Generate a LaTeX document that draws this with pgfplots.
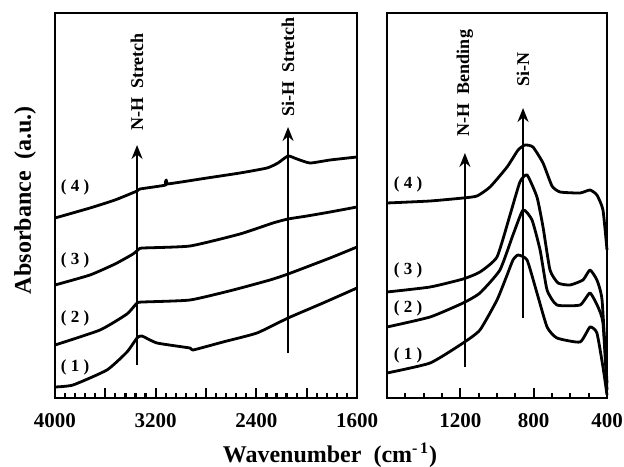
\documentclass[border=0pt]{standalone}
\usepackage{fontspec}
\setmainfont{Liberation Serif}
\usepackage{pgfplots}
\pgfplotsset{compat=1.18}
\usetikzlibrary{arrows.meta}

\pgfplotsset{ftir/.style={
  scale only axis, height=192.5pt, x dir=reverse, clip=false,
  ymin=0, ymax=3.85, ytick=\empty,
  axis line style={line width=1pt},
  tick pos=left, major tick length=0pt, minor tick length=0pt,
  tick label style={font=\fontsize{10.5}{12}\selectfont\bfseries},
  xticklabel style={yshift=-4pt},
  /pgf/number format/assume math mode=true,
  cycle list={black\\},
  every axis plot/.append style={line width=1.4pt, no marks, line join=round, smooth, tension=0.3},
}}
\tikzset{
  band/.style={line width=1pt, -{Stealth[length=7pt,width=5.5pt]}},
  bandtxt/.style={rotate=90, font=\fontsize{9}{10}\selectfont\bfseries},
  curvetxt/.style={font=\fontsize{8.5}{10}\selectfont\bfseries},
  tk/.style={line width=1.1pt, draw=black},
}

\begin{document}
\begin{tikzpicture}
% ---- left panel: 4000-1600 cm-1
\begin{axis}[ftir, at={(0pt,0pt)}, width=151pt,
  xmin=1600, xmax=4000,
  xtick={1600,2000,2400,2800,3200,3600,4000}, xticklabels={1600,,2400,,3200,,4000}]
% (4)
\addplot coordinates {(4000,1.80)(3722,1.90)(3523,1.98)(3348,2.07)(3325,2.09)(3120,2.13)(3116,2.18)(3110,2.14)
  (2792,2.20)(2530,2.25)(2315,2.30)(2228,2.35)(2148,2.42)(2077,2.39)(1973,2.35)(1814,2.38)(1600,2.41)};
% (3)
\addplot coordinates {(4000,1.13)(3722,1.23)(3523,1.34)(3380,1.44)(3332,1.49)(3300,1.50)(2927,1.52)
  (2530,1.64)(2268,1.75)(2148,1.79)(1997,1.82)(1814,1.86)(1600,1.91)};
% (2)
\addplot coordinates {(4000,0.53)(3642,0.68)(3428,0.84)(3348,0.95)(3300,0.96)(2927,0.98)(2585,1.08)
  (2292,1.18)(2148,1.24)(1814,1.40)(1600,1.51)};
% (1)
\addplot coordinates {(4000,0.11)(3857,0.13)(3587,0.28)(3428,0.46)(3348,0.60)(3309,0.62)(3189,0.55)
  (2927,0.50)(2903,0.48)(2665,0.56)(2395,0.65)(2148,0.80)(1870,0.95)(1600,1.10)};
% tick marks (drawn inward from the bottom frame)
\foreach \t in {2000,2400,2800,3200,3600} {
  \edef\tmp{\noexpand\draw[tk] (axis cs:\t,0) -- (axis cs:\t,0.10);}\tmp }
\foreach \t in {1680,1760,1840,1920,2080,2160,2240,2320,2480,2560,2640,2720,2880,2960,3040,3120,
    3280,3360,3440,3520,3680,3760,3840,3920} {
  \edef\tmp{\noexpand\draw[tk] (axis cs:\t,0) -- (axis cs:\t,0.055);}\tmp }
\draw[band] (axis cs:3348,0.33) -- (axis cs:3348,2.53);
\draw[band] (axis cs:2148,0.45) -- (axis cs:2148,2.71);
\node[bandtxt] at (axis cs:3348,3.16) {N-H\ \ Stretch};
\node[bandtxt] at (axis cs:2148,3.31) {Si-H\ \ Stretch};
\node[curvetxt] at (axis cs:3841,2.11) {( 4 )};
\node[curvetxt] at (axis cs:3841,1.38) {( 3 )};
\node[curvetxt] at (axis cs:3841,0.80) {( 2 )};
\node[curvetxt] at (axis cs:3841,0.31) {( 1 )};
\end{axis}
% ---- right panel: 1600-400 cm-1
\begin{axis}[ftir, at={(166pt,0pt)}, width=110pt,
  xmin=400, xmax=1600,
  xtick={400,800,1200,1600}, xticklabels={400,800,1200,}]
% (4)
\addplot coordinates {(1600,1.95)(1365,1.97)(1185,2.00)(1109,2.02)(1038,2.11)(945,2.31)(885,2.48)(847,2.53)
  (804,2.51)(749,2.35)(700,2.12)(656,2.06)(547,2.05)(493,2.08)(455,2.03)(422,1.88)(400,1.48)};
% (3)
\addplot coordinates {(1600,1.06)(1365,1.11)(1185,1.19)(1093,1.26)(1000,1.41)(929,1.83)(875,2.16)(836,2.23)
  (782,2.01)(749,1.71)(711,1.28)(667,1.15)(602,1.13)(531,1.18)(493,1.28)(455,1.18)(427,0.98)(400,0.15)};
% (2)
\addplot coordinates {(1600,0.71)(1365,0.81)(1185,0.95)(1093,1.05)(984,1.28)(913,1.63)(858,1.88)(809,1.78)
  (765,1.48)(727,1.08)(673,0.93)(547,0.93)(493,1.05)(449,0.91)(422,0.75)(400,0.08)};
% (1)
\addplot coordinates {(1600,0.25)(1365,0.35)(1185,0.55)(1093,0.68)(1000,0.98)(945,1.23)(913,1.38)(885,1.43)
  (836,1.38)(782,1.05)(727,0.71)(673,0.60)(547,0.56)(493,0.71)(455,0.65)(422,0.31)(400,0.03)};
% tick marks
\foreach \t in {800,1200} {
  \edef\tmp{\noexpand\draw[tk] (axis cs:\t,0) -- (axis cs:\t,0.10);}\tmp }
\foreach \t in {500,600,700,900,1000,1100,1300,1400,1500} {
  \edef\tmp{\noexpand\draw[tk] (axis cs:\t,0) -- (axis cs:\t,0.055);}\tmp }
\draw[band] (axis cs:1175,0.31) -- (axis cs:1175,2.45);
\draw[band] (axis cs:858,0.80) -- (axis cs:858,2.90);
\node[bandtxt] at (axis cs:1175,3.15) {N-H\ \ Bending};
\node[bandtxt] at (axis cs:858,3.28) {Si-N};
\node[curvetxt] at (axis cs:1485,2.14) {( 4 )};
\node[curvetxt] at (axis cs:1485,1.28) {( 3 )};
\node[curvetxt] at (axis cs:1485,0.90) {( 2 )};
\node[curvetxt] at (axis cs:1485,0.43) {( 1 )};
\end{axis}
\node[rotate=90, font=\fontsize{12}{14}\selectfont\bfseries] at (-15pt,99pt) {Absorbance\ \ (a.u.)};
\node[font=\fontsize{12}{14}\selectfont\bfseries] at (137.5pt,-28.5pt) {Wavenumber\ \ (cm\textsuperscript{-\,1})};
\pgfresetboundingbox
\path (-27.5pt,-34pt) rectangle (284.5pt,199pt);
\end{tikzpicture}
\end{document}
